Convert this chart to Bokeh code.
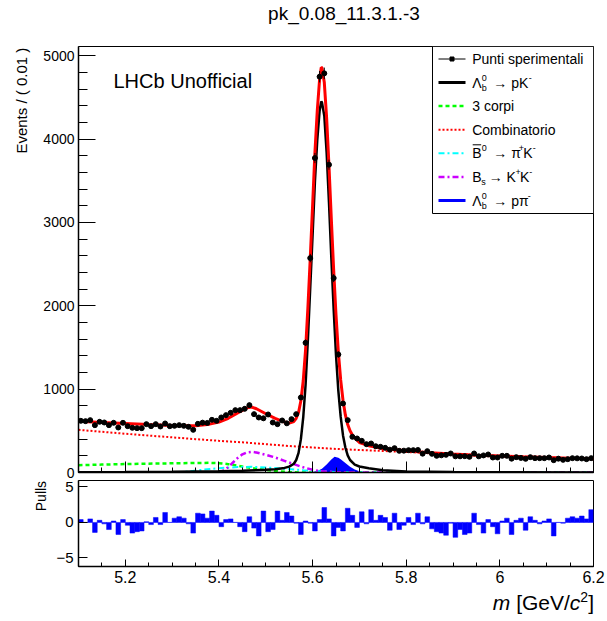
import numpy as np
from bokeh.plotting import figure
from bokeh.models import FixedTicker, Label, Range1d, CustomJSTickFormatter, Div
from bokeh.layouts import column
from bokeh.embed import file_html
from bokeh.resources import INLINE
from bokeh.core.properties import value

FONT = "Liberation Sans"

# ---------------- data ----------------
bin_width = 0.01
mass_centers = [round(5.105 + bin_width * i, 3) for i in range(110)]

events = [
    620, 616, 628, 568, 608, 600, 568, 596, 540, 596,
    556, 536, 532, 532, 580, 556, 580, 552, 588, 556,
    560, 568, 560, 548, 512, 584, 598, 595, 632, 620,
    660, 688, 716, 748, 748, 764, 808, 700, 660, 650,
    696, 600, 580, 624, 590, 640, 700, 900, 1556, 2572,
    3772, 4748, 4788, 3692, 2332, 1416, 828, 628, 428, 408,
    380, 340, 348, 315, 308, 296, 274, 292, 260, 262,
    268, 268, 270, 226, 256, 224, 200, 206, 212, 228,
    194, 194, 196, 188, 228, 194, 205, 216, 180, 180,
    200, 200, 166, 184, 175, 164, 184, 172, 172, 172,
    180, 148, 166, 152, 160, 172, 170, 168, 160, 172,
]

pulls = [
    0.4, 0.0, 0.5, -1.4, 0.3, -0.2, -1.0, 0.2, -1.7, 0.4,
    -0.4, -1.5, -1.3, -1.2, 0.1, -0.3, 0.7, -0.3, 1.4, 0.0,
    0.6, 0.8, 0.6, -0.2, -1.5, 1.3, 1.2, 0.6, 1.6, 1.0,
    -0.6, 0.4, 0.5, 0.0, -0.6, -1.3, 0.8, -0.8, -1.9, 1.6,
    -1.3, -1.0, 1.6, 0.3, 1.4, 0.9, -0.1, -1.7, 0.2, -0.1,
    -1.2, 0.4, 2.1, 0.5, -1.9, -0.7, -1.2, 2.0, 1.0, -0.7,
    1.5, -0.2, 1.8, 0.3, 1.0, 0.7, -1.1, 1.3, -1.0, -0.4,
    0.7, -0.3, 1.3, -0.2, 0.8, -0.9, -1.3, -1.5, -1.8, -0.1,
    -2.1, -1.0, -1.7, -1.5, 1.3, -0.3, -1.5, 0.4, -0.6, -1.6,
    0.2, 0.6, -1.7, 0.3, 0.6, -1.1, 0.8, 0.3, -0.2, 0.2,
    0.5, -1.9, 0.0, -0.1, 0.6, 0.8, 0.6, 0.9, 0.5, 1.8,
]

total_x = [5.10, 5.15, 5.20, 5.25, 5.30, 5.35, 5.38, 5.40, 5.42, 5.44, 5.46, 5.47, 5.48,
           5.50, 5.52, 5.54, 5.55, 5.56, 5.565, 5.57, 5.575, 5.58, 5.585, 5.59, 5.595,
           5.60, 5.605, 5.61, 5.615, 5.6185, 5.62, 5.625, 5.63, 5.635, 5.64, 5.645,
           5.65, 5.655, 5.66, 5.665, 5.67, 5.675, 5.68, 5.685, 5.69, 5.70, 5.72, 5.75,
           5.80, 5.85, 5.90, 5.95, 6.00, 6.05, 6.10, 6.15, 6.20]
total_y = [615, 600, 588, 576, 565, 560, 580, 605, 650, 715, 775, 785, 765,
           705, 650, 605, 592, 612, 650, 720, 860, 1100, 1470, 1980, 2570,
           3200, 3840, 4340, 4720, 4860, 4855, 4680, 4250, 3680, 3040, 2430,
           1890, 1445, 1110, 865, 690, 575, 500, 450, 415, 360, 322, 288,
           260, 238, 222, 208, 197, 188, 180, 172, 166]

signal_x = [5.10, 5.20, 5.30, 5.40, 5.45, 5.50, 5.52, 5.54, 5.55, 5.56, 5.565, 5.57,
            5.575, 5.58, 5.585, 5.59, 5.595, 5.60, 5.605, 5.61, 5.615, 5.6185, 5.62,
            5.625, 5.63, 5.635, 5.64, 5.645, 5.65, 5.655, 5.66, 5.665, 5.67, 5.675,
            5.68, 5.69, 5.70, 5.72, 5.75, 5.80, 5.90, 6.00, 6.20]
signal_y = [3, 5, 8, 14, 20, 32, 40, 55, 70, 105, 150, 235,
            400, 660, 1050, 1600, 2220, 2850, 3490, 3990, 4340, 4450, 4440,
            4280, 3840, 3240, 2580, 1960, 1410, 980, 670, 445, 300, 205,
            150, 95, 72, 50, 28, 12, 5, 2, 1]

comb_x = [5.10, 5.15, 5.20, 5.25, 5.30, 5.35, 5.40, 5.45, 5.50, 5.55, 5.60, 5.65,
          5.70, 5.75, 5.80, 5.85, 5.90, 5.95, 6.00, 6.05, 6.10, 6.15, 6.20]
comb_y = [512, 488, 465, 443, 422, 400, 380, 362, 340, 318, 300, 283,
          270, 258, 246, 234, 222, 211, 200, 190, 181, 172, 164]

threebody_x = [5.10, 5.15, 5.20, 5.25, 5.30, 5.35, 5.38, 5.40, 5.42, 5.44, 5.46, 5.48,
               5.50, 5.52, 5.54, 5.56, 5.58, 5.70, 5.90, 6.20]
threebody_y = [88, 95, 101, 106, 110, 114, 116, 112, 100, 82, 62, 45,
               30, 18, 9, 3, 0, 0, 0, 0]

b0_x = [5.10, 5.20, 5.30, 5.33, 5.36, 5.40, 5.44, 5.47, 5.50, 5.54, 5.58, 5.62,
        5.66, 5.70, 5.90, 6.20]
b0_y = [0, 0, 0, 10, 30, 52, 65, 68, 60, 45, 28, 12, 4, 0, 0, 0]

bs_x = [5.10, 5.30, 5.38, 5.40, 5.41, 5.42, 5.43, 5.44, 5.45, 5.46, 5.47, 5.48, 5.50,
        5.52, 5.54, 5.56, 5.58, 5.60, 5.62, 5.65, 5.70, 5.90, 6.20]
bs_y = [0, 0, 0, 5, 25, 65, 120, 175, 218, 242, 248, 240, 212,
        180, 140, 100, 62, 32, 14, 4, 0, 0, 0]

lbppi_x = [5.10, 5.58, 5.59, 5.60, 5.61, 5.62, 5.63, 5.64, 5.647, 5.655, 5.66, 5.67,
           5.68, 5.69, 5.70, 5.71, 5.72, 5.74, 6.20]
lbppi_y = [0, 0, 0, 5, 18, 45, 95, 155, 188, 178, 160, 115,
           68, 35, 15, 6, 2, 0, 0]

x_major_ticks = [5.2, 5.4, 5.6, 5.8, 6.0, 6.2]
x_minor_ticks = [round(5.1 + 0.05 * i, 2) for i in range(23)]
y_major_ticks = [0, 1000, 2000, 3000, 4000, 5000]
y_minor_ticks = [200 * i for i in range(26)]
pull_ticks = [-5, 0, 5]

# ---------------- geometry (image pixels) ----------------
X_LO, X_HI = 5.1, 6.2
Y_TOP_HI = 5110.0
PULL_LO, PULL_HI = -6.2, 5.9
IMG_L, IMG_R = 78, 593
IMG_TOP_T, IMG_TOP_B = 46, 472


def px2x(px):
    return X_LO + (px - IMG_L) * (X_HI - X_LO) / (IMG_R - IMG_L)


def py2y(py):
    return (IMG_TOP_B - py) * Y_TOP_HI / (IMG_TOP_B - IMG_TOP_T)


W = 606
TITLE_H = 30
XLAB_H = 30

title_div = Div(
    text=('<div style="width:540px;margin-left:74px;text-align:center;'
          'font-family:\'Liberation Sans\';font-size:19px;line-height:19px;'
          'padding-top:4px;color:black;white-space:nowrap">pk_0.08_11.3.1.-3</div>'),
    width=W, height=TITLE_H, margin=(0, 0, 0, 0))

top = figure(width=W, height=449, x_range=Range1d(X_LO, X_HI), y_range=Range1d(0, Y_TOP_HI),
             output_backend="svg", toolbar_location=None, title=None,
             min_border_left=78, min_border_right=W - 593, min_border_top=16, min_border_bottom=7)
pull = figure(width=W, height=111, x_range=top.x_range, y_range=Range1d(PULL_LO, PULL_HI),
              output_backend="svg", toolbar_location=None, title=None,
              min_border_left=78, min_border_right=W - 593, min_border_top=1, min_border_bottom=24)

xlab_div = Div(
    text=('<div style="width:594px;text-align:right;font-family:\'Liberation Sans\';'
          'font-size:21px;line-height:21px;padding-top:2px;color:black;white-space:nowrap">'
          '<i>m</i> [GeV/<i>c</i><span style="font-size:14px;position:relative;top:-8px">2</span>]'
          '</div>'),
    width=W, height=XLAB_H, margin=(0, 0, 0, 0))

for p in (top, pull):
    p.xgrid.visible = False
    p.ygrid.visible = False
    p.outline_line_color = "black"
    p.outline_line_width = 1
    p.outline_line_alpha = 1
    p.background_fill_color = "white"
    p.border_fill_color = "white"
    for ax in (p.xaxis[0], p.yaxis[0]):
        ax.axis_line_color = "black"
        ax.axis_line_width = 1.5
        ax.major_tick_line_color = "black"
        ax.minor_tick_line_color = "black"
        ax.major_tick_out = 0
        ax.minor_tick_out = 0
        ax.major_label_text_font = FONT
        ax.major_label_text_color = "black"
        ax.axis_label_text_font = FONT
        ax.axis_label_text_font_style = "normal"
        ax.axis_label_text_color = "black"

# top axes
top.xaxis.ticker = FixedTicker(ticks=x_major_ticks, minor_ticks=x_minor_ticks)
top.xaxis.formatter = CustomJSTickFormatter(code="return '';")
top.xaxis.major_label_standoff = 0
top.xaxis.major_tick_in = 11
top.xaxis.minor_tick_in = 5
top.yaxis.ticker = FixedTicker(ticks=y_major_ticks, minor_ticks=y_minor_ticks)
top.yaxis.major_label_text_font_size = "14px"
top.yaxis.major_label_standoff = 4
top.yaxis.major_tick_in = 17
top.yaxis.minor_tick_in = 9

# pull axes
pull.xaxis.ticker = FixedTicker(ticks=x_major_ticks, minor_ticks=x_minor_ticks)
pull.xaxis.formatter = CustomJSTickFormatter(code="return Math.abs(tick - 6) < 1e-9 ? '6' : tick.toFixed(1);")
pull.xaxis.major_label_text_font_size = "16px"
pull.xaxis.major_label_standoff = 4
pull.xaxis.major_tick_in = 7
pull.xaxis.minor_tick_in = 4
pull.yaxis.ticker = FixedTicker(ticks=pull_ticks, minor_ticks=[])
pull.yaxis.formatter = CustomJSTickFormatter(code="return tick < 0 ? '\u2212' + Math.abs(tick) : String(tick);")
pull.yaxis.major_label_text_font_size = "15px"
pull.yaxis.major_label_standoff = 5
pull.yaxis.major_tick_in = 9

# ROOT puts the y titles flush with the top of the axis: the label is centred on the
# top end of the axis, so trailing no-break spaces push the visible words below it.
NBSP = "\u00a0"
top.yaxis.axis_label = "Events / ( 0.01 )" + NBSP * 26
top.yaxis.axis_label_text_font_size = "15px"
top.yaxis.axis_label_standoff = 10
top.yaxis.axis_label_align = "end"
pull.yaxis.axis_label = "Pulls" + NBSP * 8
pull.yaxis.axis_label_text_font_size = "14px"
pull.yaxis.axis_label_standoff = 4
pull.yaxis.axis_label_align = "end"

# ---------------- top panel curves ----------------
top.varea(x=lbppi_x, y1=[0] * len(lbppi_x), y2=lbppi_y, fill_color="#0000ff")
top.line(comb_x, comb_y, line_color="#ff0000", line_width=2, line_dash="2 2")
top.line(threebody_x, threebody_y, line_color="#00ff00", line_width=2.5, line_dash="4 3")
top.line(b0_x, b0_y, line_color="#00ffff", line_width=2, line_dash="6 3 2 3")
top.line(bs_x, bs_y, line_color="#cc00ff", line_width=2.5, line_dash="6 3 2 3")
top.line(signal_x, signal_y, line_color="black", line_width=2.5)
top.line(total_x, total_y, line_color="#ff0000", line_width=3)

ev = np.array(events, dtype=float)
err = np.sqrt(ev)
mc = np.array(mass_centers)
top.segment(x0=mc, y0=ev - err, x1=mc, y1=ev + err, line_color="black", line_width=1)
top.segment(x0=mc - bin_width / 2, y0=ev, x1=mc + bin_width / 2, y1=ev, line_color="black", line_width=1)
top.scatter(mass_centers, events, size=5, color="black", marker="circle")

# ---------------- legend (drawn by hand) ----------------
top.quad(left=px2x(432), right=px2x(593), top=py2y(46), bottom=py2y(213),
         fill_color="white", line_color="black", line_width=1)
row_y = [58.5, 82.0, 105.6, 129.2, 152.8, 176.4, 200.0]
sx0, sx1 = 438, 465
styles = [
    dict(line_color="black", line_width=1),
    dict(line_color="black", line_width=3),
    dict(line_color="#00ff00", line_width=2.5, line_dash="4 3"),
    dict(line_color="#ff0000", line_width=2, line_dash="2 2"),
    dict(line_color="#00ffff", line_width=2, line_dash="6 3 2 3"),
    dict(line_color="#cc00ff", line_width=2.5, line_dash="6 3 2 3"),
    dict(line_color="#0000ff", line_width=3),
]
for ry, st in zip(row_y, styles):
    top.line([px2x(sx0), px2x(sx1)], [py2y(ry), py2y(ry)], **st)
top.scatter([px2x((sx0 + sx1) / 2)], [py2y(row_y[0])], marker="square", size=4, color="black")

tx = 471.7
rows = [
    [(0, "Punti sperimentali", "n")],
    [(0, "Λ", "n"), (9.5, "b", "sub"), (9.5, "0", "sup"), (21, "→", "n"), (39, "pK", "n"), (56.5, "-", "sup")],
    [(0, "3 corpi", "n")],
    [(0, "Combinatorio", "n")],
    [(0, "B", "n"), (9.5, "0", "sup"), (21, "→", "n"), (39, "π", "n"), (46.5, "+", "sup"), (51, "K", "n"), (60.5, "-", "sup")],
    [(0, "B", "n"), (9.0, "s", "sub"), (16.6, "→", "n"), (34.3, "K", "n"), (43.3, "+", "sup"), (47.8, "K", "n"), (57, "-", "sup")],
    [(0, "Λ", "n"), (9.5, "b", "sub"), (9.5, "0", "sup"), (21, "→", "n"), (39, "pπ", "n"), (55.5, "-", "sup")],
]
main_x, main_y, main_t = [], [], []
scr_x, scr_y, scr_t = [], [], []
for ry, pieces in zip(row_y, rows):
    for dx, t, kind in pieces:
        if kind == "n":
            main_x.append(px2x(tx + dx)); main_y.append(py2y(ry)); main_t.append(t)
        elif kind == "sup":
            scr_x.append(px2x(tx + dx)); scr_y.append(py2y(ry - 5)); scr_t.append(t)
        else:
            scr_x.append(px2x(tx + dx)); scr_y.append(py2y(ry + 5.5)); scr_t.append(t)
top.text(x=main_x, y=main_y, text=main_t, text_font=value(FONT), text_font_size="14px",
         text_baseline="middle", text_align="left", text_color="black")
top.text(x=scr_x, y=scr_y, text=scr_t, text_font=value(FONT), text_font_size="9px",
         text_baseline="middle", text_align="left", text_color="black")
top.line([px2x(tx + 0.5), px2x(tx + 9.0)], [py2y(row_y[4] - 8.5)] * 2, line_color="black", line_width=1)

top.add_layout(Label(x=px2x(113), y=py2y(80), text="LHCb Unofficial", text_font=FONT,
                     text_font_size="20px", text_baseline="middle", text_color="black"))

# ---------------- pulls panel ----------------
pull.vbar(x=mass_centers, top=pulls, bottom=0, width=bin_width, fill_color="#0000ff",
          line_color="#0000ff", line_width=0.5)

layout = column(title_div, top, pull, xlab_div)
html = file_html(layout, INLINE, title="pk_0.08_11.3.1.-3")
open("out.html", "w").write(html)
